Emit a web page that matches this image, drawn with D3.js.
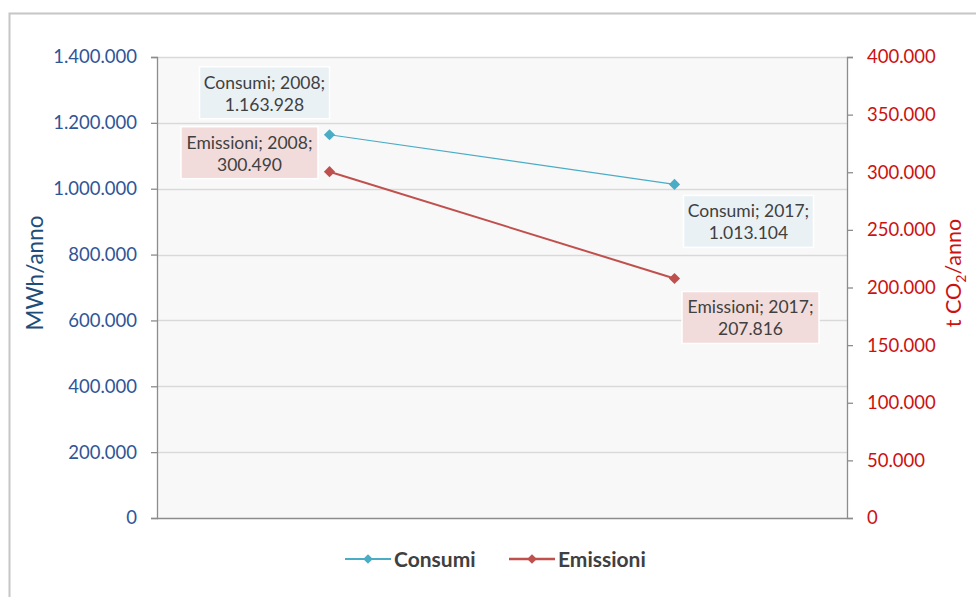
<!DOCTYPE html>
<html>
<head>
<meta charset="utf-8">
<script src="https://cdn.jsdelivr.net/npm/d3@7"></script>
<style>
  html, body { margin: 0; padding: 0; background: #fff; }
  svg { display: block; font-family: Lato, "Noto Sans", sans-serif; }
</style>
</head>
<body>
<svg id="chart" width="976" height="597"></svg>
<script>
// Years on the category axis
const years = ["2008", "2017"];
// Energy consumption, MWh/anno (left axis)
const consumi = [1163928, 1013104];
// CO2 emissions, t CO2/anno (right axis)
const emissioni = [300490, 207816];
// Axis tick values
const leftTicks = [0, 200000, 400000, 600000, 800000, 1000000, 1200000, 1400000];
const rightTicks = [0, 50000, 100000, 150000, 200000, 250000, 300000, 350000, 400000];

const fmt = v => d3.format(",")(v).replace(/,/g, ".");

const svg = d3.select("#chart");
const plot = { left: 157, right: 847, top: 57, bottom: 518 };

// outer chart frame
svg.append("rect").attr("x", 9.5).attr("y", 13.5).attr("width", 980).attr("height", 600)
  .attr("fill", "#fff").attr("stroke", "#c6c6c6").attr("stroke-width", 2);

const x = d3.scaleBand().domain(years).range([plot.left, plot.right]);
const yL = d3.scaleLinear().domain([0, 1400000]).range([plot.bottom, plot.top]);
const yR = d3.scaleLinear().domain([0, 400000]).range([plot.bottom, plot.top]);

// plot area background
svg.append("rect").attr("x", plot.left).attr("y", plot.top)
  .attr("width", plot.right - plot.left).attr("height", plot.bottom - plot.top)
  .attr("fill", "#f8f8f8");

// horizontal gridlines from the left axis
svg.append("g").selectAll("line").data(leftTicks.filter(d => d > 0)).join("line")
  .attr("x1", plot.left).attr("x2", plot.right)
  .attr("y1", d => Math.round(yL(d)) + 0.5).attr("y2", d => Math.round(yL(d)) + 0.5)
  .attr("stroke", "#d9d9d9").attr("stroke-width", 1.3);

// left axis
const gL = svg.append("g").attr("transform", `translate(${plot.left},0)`)
  .call(d3.axisLeft(yL).tickValues(leftTicks).tickFormat(fmt).tickSize(6).tickPadding(14));
gL.select(".domain").attr("stroke", "#8c8c8c").attr("stroke-width", 1.3);
gL.selectAll(".tick line").attr("stroke", "#8c8c8c").attr("stroke-width", 1.3);
gL.selectAll(".tick text").attr("fill", "#2f5597").attr("font-size", 18.5)
  .attr("font-family", "Lato, sans-serif");

// right axis
const gR = svg.append("g").attr("transform", `translate(${plot.right},0)`)
  .call(d3.axisRight(yR).tickValues(rightTicks).tickFormat(fmt).tickSize(6).tickPadding(14));
gR.select(".domain").attr("stroke", "#8c8c8c").attr("stroke-width", 1.3);
gR.selectAll(".tick line").attr("stroke", "#8c8c8c").attr("stroke-width", 1.3);
gR.selectAll(".tick text").attr("fill", "#cc1111").attr("font-size", 18.5)
  .attr("font-family", "Lato, sans-serif");

// bottom axis line
svg.append("line").attr("x1", plot.left).attr("x2", plot.right)
  .attr("y1", plot.bottom + 0.5).attr("y2", plot.bottom + 0.5)
  .attr("stroke", "#8c8c8c").attr("stroke-width", 1.3);

// axis titles
svg.append("text").attr("transform", "translate(43,273) rotate(-90)")
  .attr("text-anchor", "middle").attr("fill", "#1f4e79").attr("font-size", 22.5)
  .text("MWh/anno");
const tR = svg.append("text").attr("transform", "translate(961,273) rotate(-90)")
  .attr("text-anchor", "middle").attr("fill", "#cc1111").attr("font-size", 21.5);
tR.append("tspan").text("t CO");
tR.append("tspan").attr("font-size", 14).attr("dy", 5).text("2");
tR.append("tspan").attr("dy", -5).text("/anno");

const cx = d => x(d) + x.bandwidth() / 2;
const diamond = d3.symbol().type(d3.symbolDiamond2).size(80);
const smallDiamond = d3.symbol().type(d3.symbolDiamond2).size(60);

const series = [
  { name: "Consumi", values: consumi, y: yL, color: "#4bacc6", width: 1.2, box: "#eaf1f5" },
  { name: "Emissioni", values: emissioni, y: yR, color: "#c0504d", width: 2, box: "#f2dcdb" }
];

series.forEach(s => {
  const pts = years.map((yr, i) => ({ yr, v: s.values[i] }));
  svg.append("path").datum(pts)
    .attr("d", d3.line().x(d => cx(d.yr)).y(d => s.y(d.v)))
    .attr("fill", "none").attr("stroke", s.color).attr("stroke-width", s.width);
  svg.append("g").selectAll("path").data(pts).join("path")
    .attr("d", diamond)
    .attr("transform", d => `translate(${cx(d.yr)},${s.y(d.v)})`)
    .attr("fill", s.color);
});

// data labels: offset of box centre from the point, box size
const labelLayout = {
  "Consumi": [{ dx: -65, dy: -42, w: 130, h: 52 }, { dx: 74, dy: 37, w: 130, h: 52 }],
  "Emissioni": [{ dx: -80, dy: -19, w: 137, h: 52 }, { dx: 76, dy: 39, w: 137, h: 52 }]
};

series.forEach(s => {
  years.forEach((yr, i) => {
    const L = labelLayout[s.name][i];
    const px = cx(yr) + L.dx, py = s.y(s.values[i]) + L.dy;
    const g = svg.append("g");
    g.append("rect").attr("x", px - L.w / 2).attr("y", py - L.h / 2)
      .attr("width", L.w).attr("height", L.h)
      .attr("fill", s.box).attr("stroke", "#fff").attr("stroke-width", 1.5);
    const t = g.append("text").attr("text-anchor", "middle").attr("fill", "#404040")
      .attr("font-size", 17.5);
    t.append("tspan").attr("x", px).attr("y", py - 4).text(`${s.name}; ${yr};`);
    t.append("tspan").attr("x", px).attr("y", py + 18).text(fmt(s.values[i]));
  });
});

// legend
const legend = [
  { name: "Consumi", color: "#4bacc6", width: 1.2, x0: 345 },
  { name: "Emissioni", color: "#c0504d", width: 2, x0: 509 }
];
const ly = 559;
legend.forEach(l => {
  svg.append("line").attr("x1", l.x0).attr("x2", l.x0 + 46).attr("y1", ly).attr("y2", ly)
    .attr("stroke", l.color).attr("stroke-width", l.width + 0.6);
  svg.append("path").attr("d", smallDiamond).attr("transform", `translate(${l.x0 + 23},${ly})`)
    .attr("fill", l.color);
  svg.append("text").attr("x", l.x0 + 49).attr("y", ly + 7.5).attr("fill", "#404040")
    .attr("font-size", 21).attr("font-weight", "bold").text(l.name);
});
</script>
</body>
</html>
